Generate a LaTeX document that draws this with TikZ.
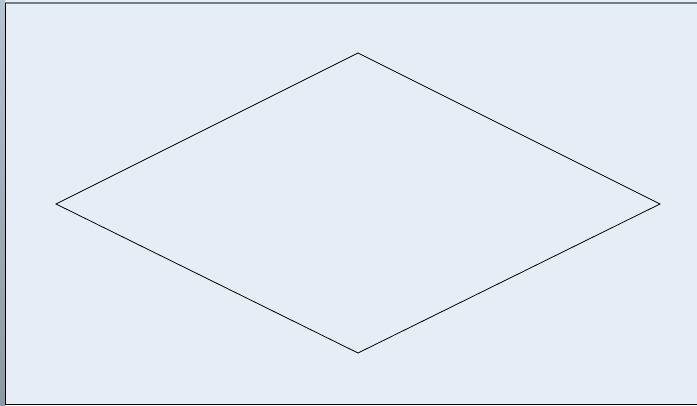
\documentclass[tikz,border=0pt]{standalone}
\begin{document}
\begin{tikzpicture}[x=1pt,y=-1pt]
\definecolor{bgfill}{HTML}{E6EDF7}
\definecolor{striptop}{HTML}{B4C4D0}
\definecolor{stripbot}{HTML}{8A9AA2}
\definecolor{topbar}{HTML}{6F8088}
\useasboundingbox (0,0) rectangle (697,405);
\fill[bgfill] (0,0) rectangle (697,405);
\shade[top color=striptop, bottom color=stripbot] (0,0) rectangle (5,405);
\fill[topbar] (5,1.5) rectangle (697,3.5);
\draw[black, line width=1.2pt] (5.6,3) -- (5.6,404.4) -- (697,404.4);
\coordinate (t) at (358,53);
\coordinate (l) at (56,204);
\coordinate (b) at (358,353);
\coordinate (r) at (660,204);
\draw[black, line width=0.8pt, line join=miter] (t) -- (r) -- (b) -- (l) -- cycle;
\end{tikzpicture}
\end{document}
